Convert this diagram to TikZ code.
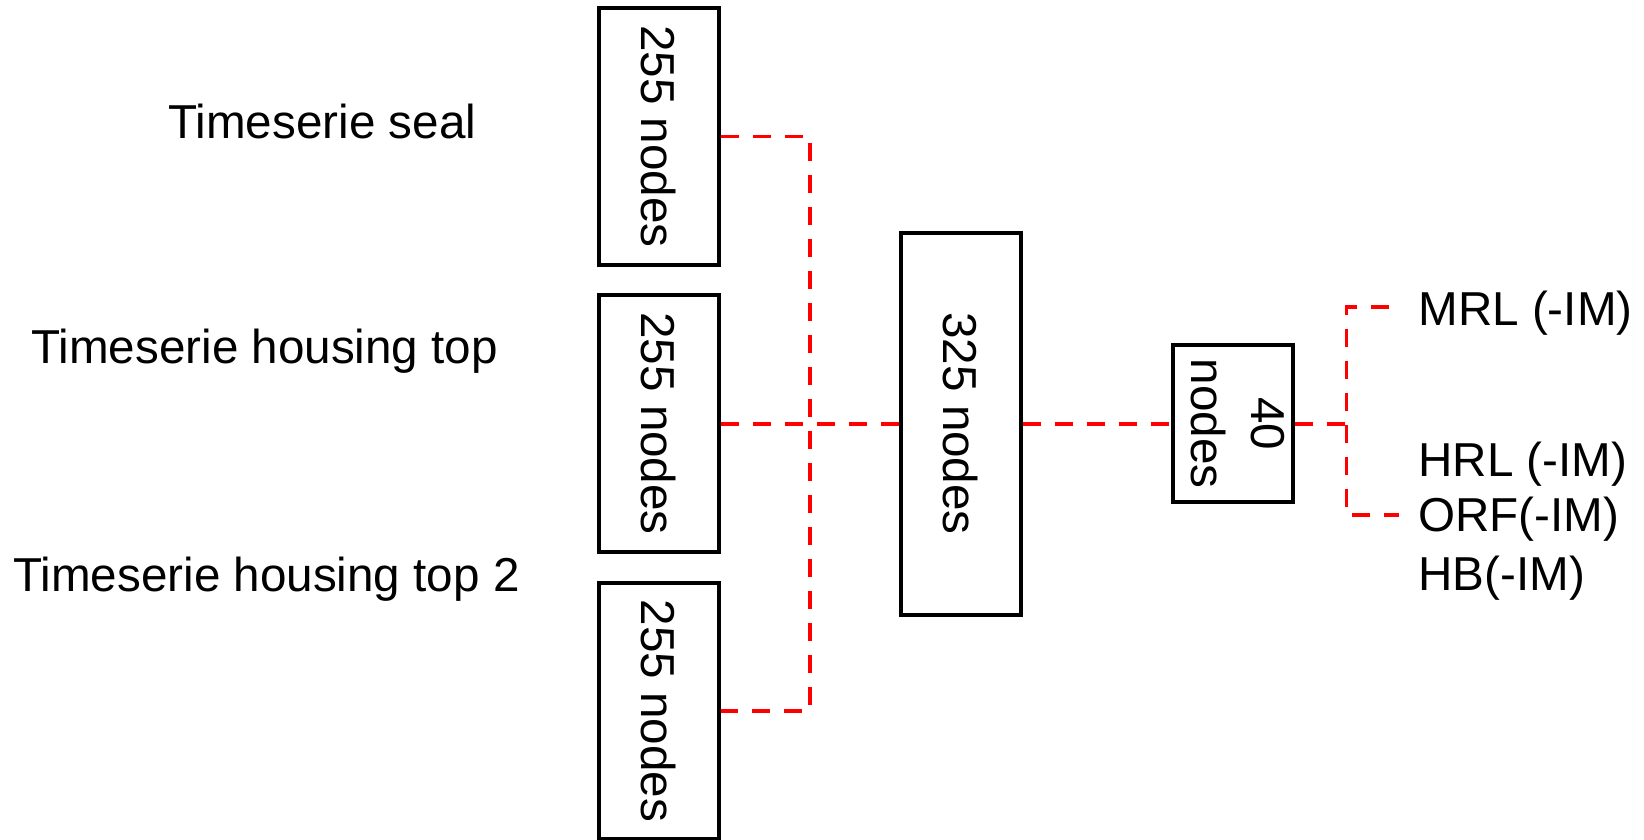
\documentclass[tikz,border=0pt]{standalone}
\usepackage{fontspec}
\setmainfont{Liberation Sans}
\usepackage{graphicx}
\tikzset{
  box/.style={draw=black, line width=2.1pt, inner sep=0pt, minimum width=60pt, fill=white},
  link/.style={draw=red, line width=1.9pt, dash pattern=on 9pt off 7pt},
  lbl/.style={inner sep=0pt, anchor=base west, font=\fontsize{23.8}{29}\selectfont},
  boxtext/.style={font=\fontsize{23.8}{30}\selectfont}
}
\newcommand{\vtext}[1]{\rotatebox[origin=c]{-90}{#1}}
\begin{document}
\begin{tikzpicture}[x=0.5pt, y=-0.5pt]
  \useasboundingbox (0,0) rectangle (1644,840);

  % input blocks
  \node[box, boxtext, minimum height=128.3pt] (in1) at (658.7,136.5) {\vtext{255 nodes}};
  \node[box, boxtext, minimum height=128.3pt] (in2) at (658.7,423.6) {\vtext{255 nodes}};
  \node[box, boxtext, minimum height=128.3pt] (in3) at (658.7,711)   {\vtext{255 nodes}};

  % hidden layers
  \node[box, boxtext, minimum height=191pt] (mid) at (961,423.6) {\vtext{325 nodes}};
  \node[box, boxtext, minimum height=78.5pt] (out) at (1233.3,423.6)
    {\vtext{\begin{tabular}{@{}c@{}}40\\nodes\end{tabular}}};

  % input labels
  \node[lbl] (l1) at (168,138.5) {Timeserie seal};
  \node[lbl] (l2) at (31,363.3) {Timeserie housing top};
  \node[lbl] (l3) at (13,591.7) {Timeserie housing top 2};

  % output labels
  \node[lbl] (o1) at (1418,325) {MRL (-IM)};
  \node[lbl] (o2) at (1418,476.7) {HRL (-IM)};
  \node[lbl] (o3) at (1418,531.7) {ORF(-IM)};
  \node[lbl] (o4) at (1418,590) {HB(-IM)};

  % connector points
  \coordinate (trunkTop) at (810,136.5);
  \coordinate (trunkBot) at (810,711);
  \coordinate (split) at (1346.5,423.6);
  \coordinate (brTop) at (1346.5,307);
  \coordinate (brBot) at (1346.5,515);
  \coordinate (endTop) at (1389,307);
  \coordinate (endBot) at (1399,515);

  % connectors
  \draw[link] (in1.east) -- (trunkTop) -- (trunkBot) -- (in3.east);
  \draw[link] (in2.east) -- (mid.west);
  \draw[link] (mid.east) -- (out.west);
  \draw[link] (out.east) -- (split);
  \draw[link] (endTop) -- (brTop) -- (brBot) -- (endBot);
\end{tikzpicture}
\end{document}
